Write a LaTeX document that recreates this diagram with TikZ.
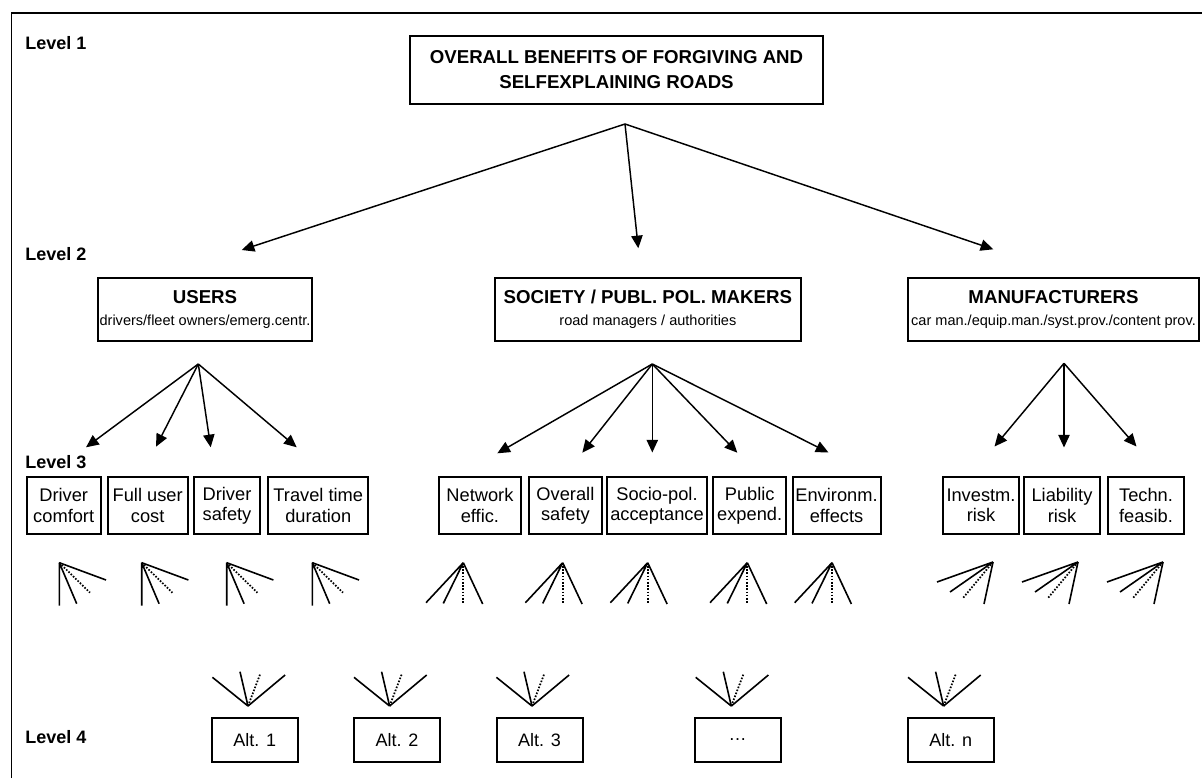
\documentclass[tikz,border=0pt]{standalone}
\usepackage{fontspec}
\setmainfont{Liberation Sans}
\usetikzlibrary{arrows.meta}
\begin{document}
\begin{tikzpicture}[x=0.75pt,y=-0.75pt,
  frame/.style={line width=1.4pt},
  bx/.style={draw, line width=1.5pt, inner sep=0pt, align=center},
  lvl/.style={anchor=west, inner sep=0pt, font=\fontsize{13.5}{16}\selectfont\bfseries},
  titlef/.style={font=\fontsize{14}{18.75}\selectfont\bfseries},
  headf/.style={font=\fontsize{10.9}{16.5}\selectfont},
  l3f/.style={font=\fontsize{13.7}{15.3}\selectfont},
  l4f/.style={font=\fontsize{13.5}{15}\selectfont},
  arr/.style={line width=1.1pt, -{Triangle[length=9.5pt,width=8.5pt]}},
  fan/.style={line width=1.2pt},
  fandot/.style={line width=1.3pt, dash pattern=on 1.2pt off 1.2pt},
  ufan/.pic={\draw[fan] (0,0)--(0,43) (0,0)--(17.4,41) (0,0)--(46.7,17.3);
             \draw[fandot] (0,0)--(30.7,30);},
  sfan/.pic={\draw[fan] (0,0)--(-37.3,40) (0,0)--(-20,40.7) (0,0)--(19.4,41.3);
             \draw[fandot] (0,0)--(0,40.3);},
  mfan/.pic={\draw[fan] (0,0)--(-56,20) (0,0)--(-43,30) (0,0)--(-9,42);
             \draw[fandot] (0,0)--(-30,36);},
  afan/.pic={\draw[fan] (0,0)--(-35.6,-28.7) (0,0)--(-8,-34.3) (0,0)--(37.1,-31);
             \draw[fandot] (0,0)--(12.2,-32);}
]
\useasboundingbox (0,0) rectangle (1202,778);
\draw[frame] (11.5,778) -- (11.5,12.7) -- (1202,12.7);

% level labels
\node[lvl] (lv1) at (25,43) {Level 1};
\node[lvl] (lv2) at (25,254) {Level 2};
\node[lvl] (lv3) at (25,461.7) {Level 3};
\node[lvl] (lv4) at (25,737.5) {Level 4};

% level 1
\node[bx, titlef, minimum width=412.3*0.75pt, minimum height=68*0.75pt] (root) at (616.5,70)
  {OVERALL BENEFITS OF FORGIVING AND\\SELFEXPLAINING ROADS};

% level 2
\node[bx, headf, minimum width=214.6*0.75pt, minimum height=62.7*0.75pt] (users) at (205,309.7)
  {{\fontsize{14}{16.5}\selectfont\bfseries USERS}\\drivers/fleet owners/emerg.centr.};
\node[bx, headf, minimum width=305.7*0.75pt, minimum height=62.7*0.75pt] (society) at (647.9,309.7)
  {{\fontsize{14}{16.5}\selectfont\bfseries SOCIETY / PUBL. POL. MAKERS}\\road managers / authorities};
\node[bx, headf, minimum width=291.6*0.75pt, minimum height=62.7*0.75pt] (manuf) at (1053.5,309.7)
  {{\fontsize{14}{16.5}\selectfont\bfseries MANUFACTURERS}\\car man./equip.man./syst.prov./content prov.};

\coordinate (r0) at (625,124);
\coordinate (t1) at (241.7,250);
\coordinate (t2) at (638.3,248.3);
\coordinate (t3) at (993.3,249.3);
\draw[arr] (r0) -- (t1);
\draw[arr] (r0) -- (t2);
\draw[arr] (r0) -- (t3);

% level 3 boxes
\tikzset{l3box/.style={bx, l3f, minimum height=57.6*0.75pt, minimum width=#1*0.75pt}}
\node[l3box=74]   (dc) at (63.7,505.5)  {Driver\\comfort};
\node[l3box=80]   (fu) at (147.7,505.5) {Full user\\cost};
\node[l3box=66]   (ds) at (227,505.5)   {Driver\\safety};
\node[l3box=100]  (tt) at (318.3,505.5) {Travel time\\duration};
\node[l3box=81.7] (ne) at (479.9,505.5) {Network\\effic.};
\node[l3box=72.7] (os) at (565.4,505.5) {Overall\\safety};
\node[l3box=99.4] (sp) at (657,505.5)   {Socio-pol.\\acceptance};
\node[l3box=72.7] (pe) at (749.7,505.5) {Public\\expend.};
\node[l3box=88]   (ee) at (836.5,505.5) {Environm.\\effects};
\node[l3box=76]   (ir) at (981,505.5)   {Investm.\\risk};
\node[l3box=76]   (lr) at (1062,505.5)  {Liability\\risk};
\node[l3box=76]   (tf) at (1146,505.5)  {Techn.\\feasib.};

% level 2 -> 3 arrows
\coordinate (ua) at (198.3,364);
\coordinate (u1) at (86,447.3);
\coordinate (u2) at (156,446.7);
\coordinate (u3) at (210.7,447.3);
\coordinate (u4) at (296.7,447.3);
\foreach \t in {u1,u2,u3,u4} \draw[arr] (ua) -- (\t);

\coordinate (sa) at (652.3,364);
\coordinate (s1) at (497.3,453.3);
\coordinate (s2) at (582.3,452.7);
\coordinate (s3) at (652.3,452.5);
\coordinate (s4) at (737.3,452.7);
\coordinate (s5) at (828.5,452.5);
\foreach \t in {s1,s2,s3,s4,s5} \draw[arr] (sa) -- (\t);

\coordinate (ma) at (1064,363.3);
\coordinate (m1) at (994.5,446.5);
\coordinate (m2) at (1064,447.5);
\coordinate (m3) at (1136.5,446.5);
\foreach \t in {m1,m2,m3} \draw[arr] (ma) -- (\t);

% fans below level 3
\foreach \x in {59.3,141.7,226.7,312.3} \pic at (\x,562.7) {ufan};
\foreach \x in {463.3,562.7,647.7,747.3,832} \pic at (\x,562.7) {sfan};
\foreach \x in {993,1078,1163} \pic at (\x,562) {mfan};

% fans above level 4
\foreach \x in {248,389.6,532,731.3,943.6} \pic at (\x,706) {afan};

% level 4 boxes
\tikzset{l4box/.style={bx, l4f, minimum width=86*0.75pt, minimum height=44*0.75pt}}
\node[l4box] (a1) at (254.7,740) {Alt. 1};
\node[l4box] (a2) at (397,740)   {Alt. 2};
\node[l4box] (a3) at (539.5,740) {Alt. 3};
\node[l4box] (ad) at (737.6,740) {…};
\node[l4box] (an) at (950.7,740) {Alt. n};
\end{tikzpicture}
\end{document}
